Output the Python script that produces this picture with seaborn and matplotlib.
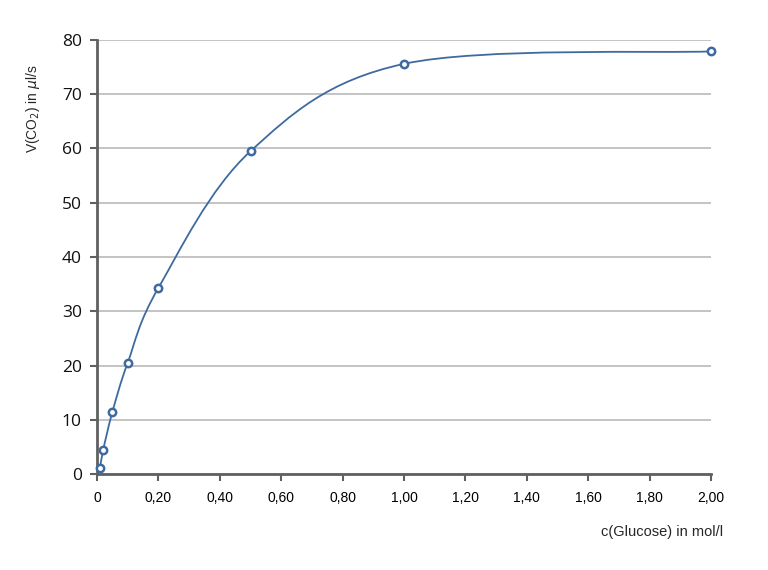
import numpy as np
import pandas as pd
import matplotlib
matplotlib.use("Agg")
import matplotlib.pyplot as plt
from matplotlib.path import Path
from matplotlib.patches import PathPatch
from matplotlib.ticker import FuncFormatter, MultipleLocator
import seaborn as sns

glucose = [0.01, 0.02, 0.05, 0.10, 0.20, 0.50, 1.00, 2.00]
co2_rate = [1.1, 4.4, 11.4, 20.5, 34.3, 59.5, 75.6, 77.9]

x_label = "c(Glucose) in mol/l"
y_label = r"V(CO$_2$) in $\mu$l/s"

LINE = "#3f6a9f"
AXIS = "#606060"
GRID = "#c4c4c4"


def smooth_path(xs, ys):
    # Catmull-Rom style bezier through the points, like the spreadsheet's smoothed line
    pts = np.column_stack([xs, ys])
    verts = [pts[0]]
    codes = [Path.MOVETO]
    n = len(pts)
    for i in range(n - 1):
        p0 = pts[max(i - 1, 0)]
        p1 = pts[i]
        p2 = pts[i + 1]
        p3 = pts[min(i + 2, n - 1)]
        c1 = p1 + (p2 - p0) / 6
        c2 = p2 - (p3 - p1) / 6
        verts += [c1, c2, p2]
        codes += [Path.CURVE4] * 3
    return Path(verts, codes)


def comma_fmt(v, pos):
    if abs(v) < 1e-9:
        return "0"
    return f"{v:.2f}".replace(".", ",")


def main():
    sns.set_style("white")
    plt.rcParams["font.family"] = ["Liberation Sans", "DejaVu Sans"]

    fig = plt.figure(figsize=(7.68, 5.70), dpi=100)
    ax = fig.add_axes([97 / 768, 1 - 474 / 570, (711 - 97) / 768, (474 - 40) / 570])

    df = pd.DataFrame({"c": glucose, "v": co2_rate})

    ax.add_patch(PathPatch(smooth_path(df["c"], df["v"]), fill=False,
                           edgecolor=LINE, lw=1.3, zorder=3, clip_on=False))
    sns.scatterplot(data=df, x="c", y="v", ax=ax, marker="o", s=28,
                    facecolor="white", edgecolor=LINE, linewidth=1.8,
                    zorder=4, clip_on=False)

    ax.set_xlim(0, 2.0)
    ax.set_ylim(0, 80)
    ax.xaxis.set_major_locator(MultipleLocator(0.2))
    ax.yaxis.set_major_locator(MultipleLocator(10))
    ax.xaxis.set_major_formatter(FuncFormatter(comma_fmt))

    ax.yaxis.grid(True, color=GRID, lw=1.4)
    ax.xaxis.grid(False)
    ax.set_axisbelow(True)

    for side in ["top", "right"]:
        ax.spines[side].set_visible(False)
    for side in ["left", "bottom"]:
        ax.spines[side].set_color(AXIS)
        ax.spines[side].set_linewidth(2)

    ax.tick_params(axis="both", which="major", length=5, width=1.5,
                   color=AXIS, left=True, bottom=True)
    ax.tick_params(axis="x", labelsize=10, pad=7, labelcolor="black")
    ax.tick_params(axis="y", labelsize=12.5, pad=6, labelcolor="#111111")
    for lbl in ax.get_yticklabels():
        lbl.set_fontfamily(["Open Sans", "DejaVu Sans"])

    ax.set_xlabel("")
    ax.set_ylabel("")
    fig.text(723 / 768, 1 - 532 / 570, x_label, ha="right", va="center", fontsize=10.5)
    fig.text(33 / 768, 1 - 109 / 570, y_label, ha="center", va="center",
             rotation=90, fontsize=10)

    fig.savefig("out.png", dpi=100)


if __name__ == "__main__":
    main()
